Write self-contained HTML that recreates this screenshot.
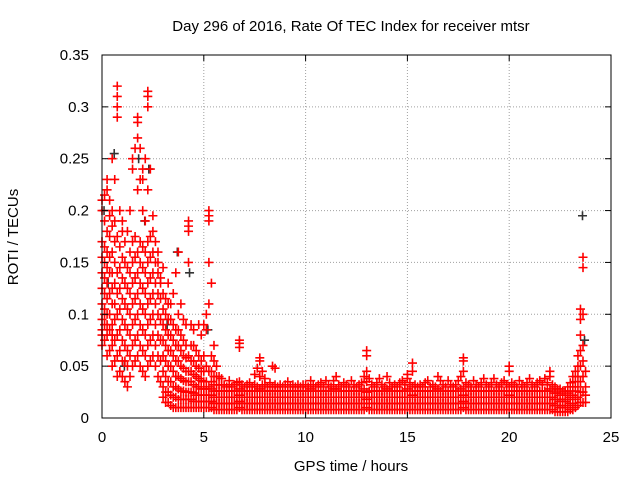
<!DOCTYPE html>
<html><head><meta charset="utf-8"><style>
body{margin:0;background:#fff}
svg text{font-family:"Liberation Sans",sans-serif;font-size:15px;fill:#000}
</style></head><body>
<svg id="c" width="640" height="480" xmlns="http://www.w3.org/2000/svg">
<text x="351" y="31" text-anchor="middle">Day 296 of 2016, Rate Of TEC Index for receiver mtsr</text>
<text x="351" y="471" text-anchor="middle">GPS time / hours</text>
<text transform="translate(18,237) rotate(-90)" text-anchor="middle">ROTI / TECUs</text>
<g id="grid"></g><g id="marks"></g><g id="ticks"></g>
<rect x="102" y="55" width="509" height="363" fill="none" stroke="#000"/>
</svg>
<script>
const xTicks=[0,5,10,15,20,25];
const yTicks=[0,0.05,0.1,0.15,0.2,0.25,0.3,0.35];
const yTickLabels=["0","0.05","0.1","0.15","0.2","0.25","0.3","0.35"];
// rows: [time in hours, ROTI values in milli-TECU/min...]
const redRows=[
[0,70,85,95,110,125,140,155,170,200,210,80],[0.125,75,90,105,120,135,150,165,190,215,100],
[0.25,60,80,100,115,130,145,160,180,220,230,90],[0.375,65,85,100,120,140,155,175,195,210],
[0.5,50,70,90,110,125,140,160,185,200,250,80],[0.625,55,75,95,110,130,150,170,190,230],
[0.75,40,60,80,100,120,140,175,290,310,320,300],[0.875,45,65,85,105,125,145,165,200],
[1.0,40,55,75,95,115,135,155,190,180],[1.125,35,55,70,90,110,130,150,170],
[1.25,30,50,65,85,105,125,145,180],[1.375,40,60,80,100,120,140,160,200],
[1.5,50,70,90,110,130,150,170,250,240],[1.625,55,75,95,115,135,155,175,260],
[1.75,60,80,100,120,140,160,220,270,290,285],[1.875,50,70,90,110,130,150,170,230,260],
[2.0,45,65,85,105,125,145,165,200,240,230],[2.125,40,60,80,100,120,140,160,190,250],
[2.25,50,70,90,110,130,150,170,220,300,310,315],[2.375,55,75,95,115,135,155,175,240],
[2.5,60,80,100,120,140,160,195,180],[2.625,50,70,90,110,130,150,170],
[2.75,40,60,80,100,120,140,160,150],[2.875,35,55,75,95,115,135,130],
[3.0,20,30,45,60,75,90,105,120,145],[3.125,15,25,40,55,70,85,100,115],
[3.25,15,25,35,50,65,80,95,110,130],[3.375,12,22,35,50,65,80,95,110],
[3.5,10,20,30,45,60,75,90,120],[3.625,10,20,30,40,55,70,85,140],
[3.75,10,18,28,40,55,70,85,100,160],[3.875,10,18,26,38,50,65,80,110],
[4.0,10,18,26,36,48,60,75,95],[4.125,10,18,25,35,45,58,70,90],
[4.25,10,18,25,35,45,60,150,180,190,185],[4.375,10,18,25,35,45,55,70,90],
[4.5,10,16,24,32,42,55,70,85],[4.625,10,16,22,30,40,50,65],
[4.75,10,16,22,30,38,48,60,90],[4.875,10,16,22,28,36,45,55,80],
[5.0,10,16,22,28,35,45,60,90],[5.125,10,16,22,28,35,50,85,100],
[5.25,10,16,22,30,45,110,150,190,200,195],[5.375,10,16,22,28,35,45,60,130],
[5.5,8,14,20,26,32,40,55,70],[5.625,8,14,20,26,32,40,50],
[5.75,8,14,20,26,32,40],[5.875,8,14,20,26,32,38],[6.0,8,14,20,26,32],[6.125,8,14,20,26,30],
[6.25,8,14,20,26,32,36],[6.375,8,14,20,26,30],[6.5,8,14,20,26,32],[6.625,8,14,20,26,34],
[6.75,10,16,22,28,35,68,72,75],[6.875,8,14,20,26,32],[7.0,8,14,20,26,30],[7.125,8,14,20,26,32],
[7.25,8,14,20,26,34],[7.375,8,14,20,26,30],[7.5,8,14,20,26,32,42],[7.625,8,14,20,26,30,48],
[7.75,8,14,20,28,40,55,58],[7.875,8,14,20,26,32,45],[8.0,8,14,20,26,32,38],[8.125,8,14,20,26,30],
[8.25,8,14,20,26,34],[8.375,8,14,20,26,30,50],[8.5,8,14,20,26,32,48],[8.625,8,14,20,26,30],
[8.75,8,14,20,26,32],[8.875,8,14,20,26,30],[9.0,8,14,20,26,32],[9.125,8,14,20,26,35],
[9.25,8,14,20,26,30],[9.375,8,14,20,26,32],[9.5,8,14,20,26,30],[9.625,8,14,20,26,32],
[9.75,8,14,20,26,30],[9.875,8,14,20,26,32],[10.0,8,14,20,26,32],[10.125,8,14,20,26,30],
[10.25,8,14,20,28,36],[10.375,8,14,20,26,32],[10.5,8,14,20,26,30],[10.625,8,14,20,26,32],
[10.75,8,14,20,26,34],[10.875,8,14,20,26,30],[11.0,8,14,20,26,36],[11.125,8,14,20,26,32],
[11.25,8,14,20,26,30],[11.375,8,14,20,28,36],[11.5,8,14,20,28,40],[11.625,8,14,20,26,32],
[11.75,8,14,20,26,30],[11.875,8,14,20,26,34],[12.0,8,14,20,26,32],[12.125,8,14,20,26,30],
[12.25,8,14,20,26,36],[12.375,8,14,20,26,32],[12.5,8,14,20,26,30],[12.625,8,14,20,26,32],
[12.75,8,14,20,26,34],[12.875,8,14,20,28,40],[13.0,10,18,25,35,45,60,65],[13.125,8,14,20,26,38],
[13.25,8,14,20,26,32],[13.375,8,14,20,26,30],[13.5,8,14,20,26,34],[13.625,8,14,20,26,38],
[13.75,8,14,20,26,32],[13.875,8,14,20,26,30],[14.0,8,14,20,28,40],[14.125,8,14,20,26,34],
[14.25,8,14,20,26,30],[14.375,8,14,20,26,32],[14.5,8,14,20,26,30],[14.625,8,14,20,26,34],
[14.75,8,14,20,26,36],[14.875,8,14,20,26,32],[15.0,8,14,20,28,38,42],[15.125,8,14,20,26,34],
[15.25,8,14,22,30,45,53],[15.375,8,14,20,26,32],[15.5,8,14,20,26,30],[15.625,8,14,20,26,32],
[15.75,8,14,20,26,30],[15.875,8,14,20,26,34],[16.0,8,14,20,26,36],[16.125,8,14,20,26,30],
[16.25,8,14,20,26,32],[16.375,8,14,20,26,30],[16.5,8,14,20,28,40],[16.625,8,14,20,26,36],
[16.75,8,14,20,26,32],[16.875,8,14,20,26,30],[17.0,8,14,20,26,36],[17.125,8,14,20,26,32],
[17.25,8,14,20,26,30],[17.375,8,14,20,26,32],[17.5,8,14,20,26,36],[17.625,8,14,20,28,40],
[17.75,10,16,22,30,45,55,58],[17.875,8,14,20,26,34],[18.0,8,14,20,26,32],[18.125,8,14,20,26,30],
[18.25,8,14,20,26,36],[18.375,8,14,20,26,32],[18.5,8,14,20,26,30],[18.625,8,14,20,26,34],
[18.75,8,14,20,26,38],[18.875,8,14,20,26,32],[19.0,8,14,20,26,30],[19.125,8,14,20,26,34],
[19.25,8,14,20,26,38],[19.375,8,14,20,26,32],[19.5,8,14,20,26,30],[19.625,8,14,20,26,34],
[19.75,8,14,20,26,36],[19.875,8,14,20,26,32],[20.0,8,14,22,30,45,50],[20.125,8,14,20,26,34],
[20.25,8,14,20,26,32],[20.375,8,14,20,26,30],[20.5,8,14,20,26,36],[20.625,8,14,20,26,32],
[20.75,8,14,20,26,30],[20.875,8,14,20,26,34],[21.0,8,14,20,26,38],[21.125,8,14,20,26,32],
[21.25,8,14,20,26,30],[21.375,8,14,20,26,34],[21.5,8,14,20,26,36],[21.625,8,14,20,26,32],
[21.75,8,14,20,26,38],[21.875,8,14,20,26,34],[22.0,8,14,20,28,40,45],[22.125,8,14,20,26,32],
[22.25,6,12,18,24,30],[22.375,6,12,18,24,28],[22.5,6,10,16,22,28],[22.625,6,10,16,22,26],
[22.75,6,10,16,22,26],[22.875,6,12,18,24,30],[23.0,8,14,20,26,34],[23.125,8,14,22,30,40],
[23.25,10,18,26,35,45],[23.375,12,20,30,40,50,60],[23.5,15,25,35,50,65,80,95,105],
[23.625,15,25,40,55,70,155,145,100],[23.75,15,22,30,45]
];
const blackT=[0.1,0.6,1.8,2.3,3.7,4.3,5.2,23.6,23.7,0.3,2.1,1.1,3.2];
const blackV=[0.2,0.255,0.25,0.24,0.16,0.14,0.085,0.195,0.075,0.13,0.19,0.05,0.09];
const X=t=>102+t*509/25, Y=v=>418-v*363/0.35;
const NS="http://www.w3.org/2000/svg";
const g=document.getElementById('grid'),m=document.getElementById('marks'),tk=document.getElementById('ticks');
function mk(p,tag,at){const e=document.createElementNS(NS,tag);for(const k in at)e.setAttribute(k,at[k]);p.appendChild(e);return e;}
xTicks.forEach(t=>{
 const l=mk(g,'line',{x1:X(t),x2:X(t),y1:55,y2:418,stroke:'#a0a0a0','stroke-dasharray':'1,2'});
 
 
 mk(tk,'line',{x1:X(t),x2:X(t),y1:418,y2:412,stroke:'#000'});mk(tk,'line',{x1:X(t),x2:X(t),y1:55,y2:61,stroke:'#000'});
 const s=mk(tk,'text',{x:X(t),y:442,'text-anchor':'middle'});s.textContent=t;
 
 
});
yTicks.forEach((v,i)=>{
 const l=mk(g,'line',{x1:102,x2:611,y1:Y(v),y2:Y(v),stroke:'#a0a0a0','stroke-dasharray':'1,2'});
 
 
 mk(tk,'line',{x1:102,x2:108,y1:Y(v),y2:Y(v),stroke:'#000'});mk(tk,'line',{x1:605,x2:611,y1:Y(v),y2:Y(v),stroke:'#000'});
 const s=mk(tk,'text',{x:89,y:Y(v)+5,'text-anchor':'end'});s.textContent=yTickLabels[i];
 
 
});
function plus(t,v,c,name){const x=X(t),y=Y(v);
 const e=mk(m,'path',{d:`M${x-4.5} ${y}h9M${x} ${y-4.5}v9`,stroke:c,'stroke-width':1.6,fill:'none'});
 
 }
blackT.forEach((t,i)=>plus(t,blackV[i],'#333','roti-point-black'));
redRows.forEach(r=>{for(let i=1;i<r.length;i++)plus(r[0],r[i]/1000,'#ff0000','roti-point-red');});
</script>
</body></html>
